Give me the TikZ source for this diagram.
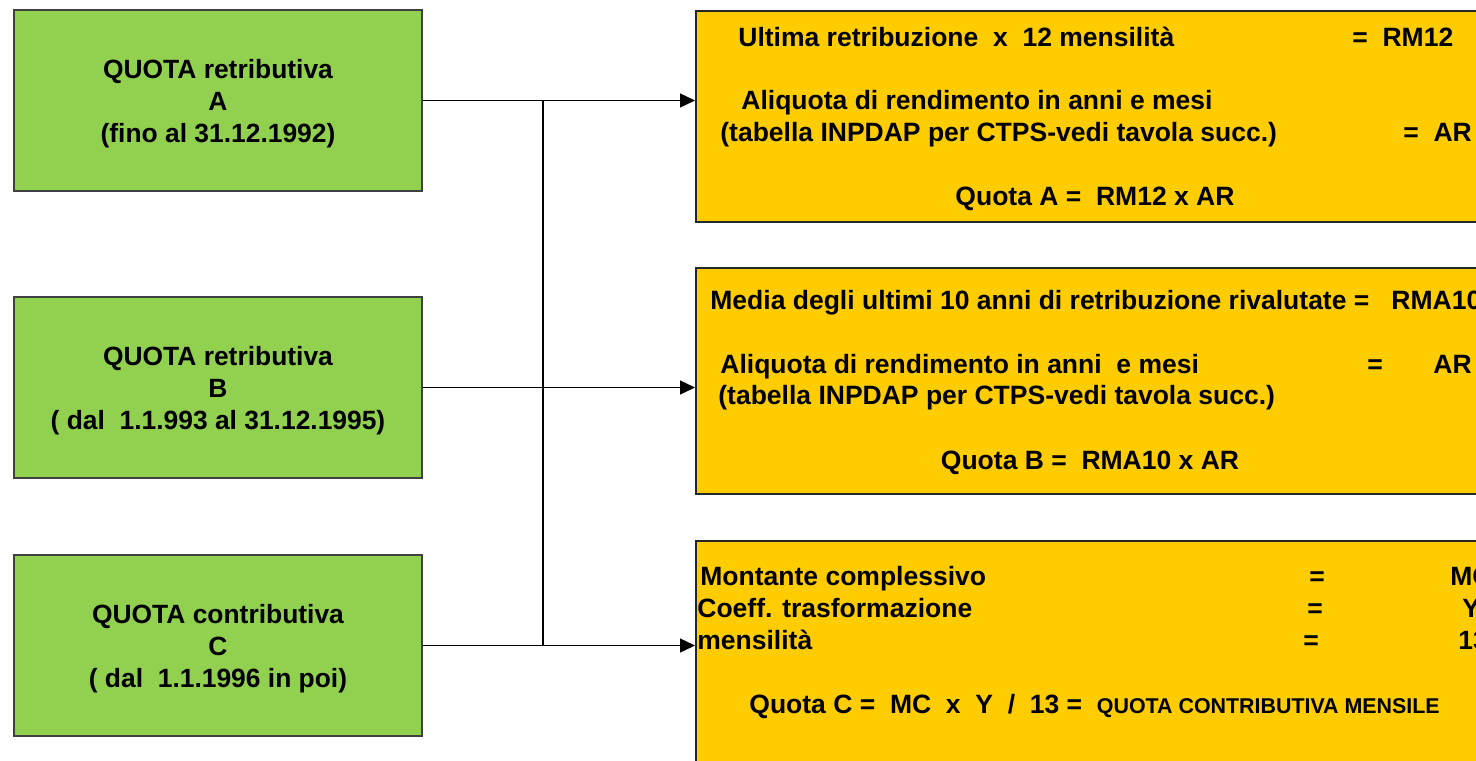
\documentclass[tikz,border=0pt]{standalone}
\usepackage{fontspec}
\setmainfont{Liberation Sans}
\usetikzlibrary{arrows.meta,positioning}
\definecolor{quotagreen}{HTML}{92D050}
\definecolor{calcyellow}{HTML}{FFCC00}

\tikzset{
  quota/.style={draw=black!75, fill=quotagreen, line width=0.6pt,
    minimum width=204pt, minimum height=90.5pt, align=center,
    font=\bfseries\fontsize{13.2}{16}\selectfont},
  calcbox/.style={draw=black!85, fill=calcyellow, line width=0.8pt,
    anchor=north west, inner sep=0pt, minimum width=402pt},
  riga/.style={anchor=base west, inner sep=0pt,
    font=\bfseries\fontsize{13.25}{16}\selectfont},
  rigac/.style={riga, anchor=base},
  freccia/.style={line width=0.65pt, -{Triangle[length=7.5pt,width=7pt]}},
  linea/.style={line width=0.65pt}
}
\newcommand{\alza}{\rule{0pt}{12.6pt}}

\begin{document}
\begin{tikzpicture}[x=0.5pt,y=-0.5pt]
\useasboundingbox (0,0) rectangle (1476,760);
\clip (0,0) rectangle (1476,760);

% quote (sinistra)
\node[quota] (qA) at (218,100.5) {\alza QUOTA retributiva\\A\\(fino al 31.12.1992)};
\node[quota] (qB) at (218,387.5) {\alza QUOTA retributiva\\B\\( dal\ \ 1.1.993 al 31.12.1995)};
\node[quota] (qC) at (218,645.5) {\alza QUOTA contributiva\\C\\( dal\ \ 1.1.1996 in poi)};

% calcoli (destra)
\node[calcbox, minimum height=105.5pt] (cA) at (695,10)  {};
\node[calcbox, minimum height=113pt]   (cB) at (695,267) {};
\node[calcbox, minimum height=130pt]   (cC) at (695,540) {};

% quota A
\node[riga]  (a1)  at (738,46)   {Ultima retribuzione\ \ x\ \ 12 mensilità};
\node[riga]  (a1r) at (1352,46)  {=\ \ RM12};
\node[riga]  (a2)  at (741,109)  {Aliquota di rendimento in anni e mesi};
\node[riga]  (a3)  at (720,141)  {(tabella INPDAP per CTPS-vedi tavola succ.)};
\node[riga]  (a3r) at (1403,141) {=\ \ AR};
\node[rigac] (a4)  at (1095,205) {Quota A =\ \ RM12 x AR};

% quota B
\node[riga]  (b1)  at (710,309)  {Media degli ultimi 10 anni di retribuzione rivalutate =\ \ \ RMA10};
\node[riga]  (b2)  at (720,373)  {Aliquota di rendimento in anni\ \ e mesi};
\node[riga]  (b2e) at (1367,373) {=};
\node[riga]  (b2r) at (1433,373) {AR};
\node[riga]  (b3)  at (718,404)  {(tabella INPDAP per CTPS-vedi tavola succ.)};
\node[rigac] (b4)  at (1090,469) {Quota B =\ \ RMA10 x AR};

% quota C
\node[riga] (c1)  at (700,585)  {Montante complessivo};
\node[riga] (c1e) at (1309,585) {=};
\node[riga] (c1r) at (1450,585) {MC};
\node[riga] (c2)  at (697,617)  {Coeff. trasformazione};
\node[riga] (c2e) at (1307,617) {=};
\node[riga] (c2r) at (1462,617) {Y};
\node[riga] (c3)  at (697,649)  {mensilità};
\node[riga] (c3e) at (1303,649) {=};
\node[riga] (c3r) at (1458,649) {13};
\node[riga] (c4)  at (749,713)  {Quota C =\ \ MC\ \ x\ \ Y\ \ /\ \ 13 =\ \ {\fontsize{10.7}{12}\selectfont QUOTA CONTRIBUTIVA MENSILE}};

% collegamenti
\coordinate (bus) at (543,0);
\draw[linea] (qA.east -| bus) -- (qC.east -| bus);
\draw[freccia] (qA.east) -- (qA.east -| cA.west);
\draw[freccia] (qB.east) -- (qB.east -| cB.west);
\draw[freccia] (qC.east) -- (qC.east -| cC.west);
\end{tikzpicture}
\end{document}
